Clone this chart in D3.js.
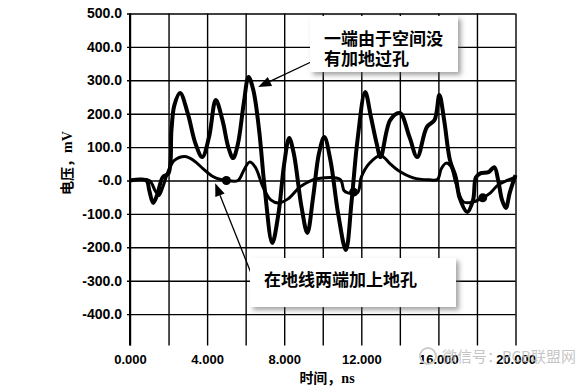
<!DOCTYPE html>
<html>
<head>
<meta charset="utf-8">
<script src="https://cdn.jsdelivr.net/npm/d3@7"></script>
<style>
  html, body { margin: 0; padding: 0; background: #fff; }
  svg { display: block; }
</style>
</head>
<body>
<div id="chart"></div>
<script>
// time in ns, voltage in mV
var timeNoVia = [0, 0.85, 1.0, 1.2, 1.4, 1.7, 2.0, 2.15, 2.3, 2.6, 3.0, 3.4, 3.75, 4.1, 4.45, 4.8, 5.1, 5.35, 5.6, 5.9, 6.15, 6.4, 6.7, 7.0, 7.38, 7.7, 8.0, 8.26, 8.5, 8.9, 9.2, 9.5, 9.8, 10.08, 10.4, 10.8, 11.2, 11.5, 11.8, 12.2, 12.5, 12.8, 13.0, 13.5, 14.0, 14.5, 14.9, 15.4, 15.8, 16.05, 16.3, 16.6, 16.9, 17.1, 17.5, 17.8, 17.95, 18.2, 18.6, 18.9, 19.1, 19.3, 19.5, 19.7, 20.0];
var voltNoVia = [0, 0, -30, -67, -45, 10, 22, 150, 225, 262, 200, 110, 70, 130, 241, 180, 100, 67, 110, 230, 310, 270, 150, -30, -187, -100, 50, 127, 80, -80, -157, -50, 80, 130, 60, -100, -208, -60, 120, 265, 190, 110, 70, 181, 202, 130, 70, 160, 181, 256, 180, 61, 10, -52, -94, -58, 10, 22, 25, 40, 1, -58, -82, -37, 16];

var timeWithVia = [0, 1.0, 1.3, 1.5, 1.7, 2.0, 2.3, 2.85, 3.3, 3.8, 4.3, 4.7, 5.0, 5.6, 5.9, 6.2, 6.5, 6.9, 7.3, 7.7, 8.2, 8.8, 9.3, 9.7, 10.9, 11.1, 11.3, 11.8, 12.0, 12.4, 13.0, 13.5, 13.9, 14.7, 15.5, 15.95, 16.15, 16.4, 16.65, 16.9, 17.3, 17.8, 18.3, 18.7, 19.1, 19.6, 20.0];
var voltWithVia = [0, 0, -30, -45, -20, 30, 60, 72, 60, 35, 12, 3, 0, 0, 30, 55, 40, -20, -58, -67, -55, -20, -3, 5, 3, -30, -37, -37, 10, 50, 75, 50, 31, 8, 2, 3, 35, 52, 42, -7, -64, -64, -52, -37, -13, 1, 10];

var markerTimes = [5.0, 11.6, 18.3];
var markerVolts = [0, -35, -52];

var timeTicks = [0, 2, 4, 6, 8, 10, 12, 14, 16, 18, 20];
var timeLabels = ['0.000', '', '4.000', '', '8.000', '', '12.000', '', '16.000', '', '20.000'];
var voltTicks = [500, 400, 300, 200, 100, 0, -100, -200, -300, -400];
var voltLabels = ['500.0', '400.0', '300.0', '200.0', '100.0', '-0.0', '-100.0', '-200.0', '-300.0', '-400.0'];

var width = 584, height = 387;

var svg = d3.select('#chart').append('svg')
  .attr('width', width).attr('height', height)
  .style('background', '#fff');

var defs = svg.append('defs');
var shadow = defs.append('filter').attr('id', 'shadow')
  .attr('x', '-10%').attr('y', '-20%').attr('width', '130%').attr('height', '150%');
shadow.append('feDropShadow')
  .attr('dx', 3).attr('dy', 3).attr('stdDeviation', 2.5)
  .attr('flood-color', '#555').attr('flood-opacity', 0.55);

var x = d3.scaleLinear().domain([0, 20]).range([130, 515.5]);
var y = d3.scaleLinear().domain([-500, 500]).range([347.5, 13.5]);

// vertical grid + x labels
var xAxis = d3.axisBottom(x)
  .tickValues(timeTicks)
  .tickSize(-(y(-500) - y(500) - 2))
  .tickPadding(9)
  .tickFormat(function (d, i) { return timeLabels[i]; });

svg.append('g')
  .attr('transform', 'translate(0,' + (y(-500) - 2) + ')')
  .call(xAxis)
  .call(function (g) {
    g.select('.domain').remove();
    g.selectAll('line').attr('stroke', '#000').attr('stroke-width', 1.4);
    g.selectAll('text')
      .attr('fill', '#000')
      .style('font-family', 'Liberation Sans, Arial, sans-serif')
      .style('font-size', '13px')
      .style('font-weight', 'bold');
  });

// horizontal grid + y labels
var yAxis = d3.axisLeft(y)
  .tickValues(voltTicks)
  .tickSize(3)
  .tickPadding(5)
  .tickFormat(function (d, i) { return voltLabels[i]; });

svg.append('g')
  .attr('transform', 'translate(130,0)')
  .call(yAxis)
  .call(function (g) {
    g.select('.domain').remove();
    g.selectAll('line')
      .attr('x1', -3).attr('x2', x(20) - 130)
      .attr('stroke', '#000').attr('stroke-width', 1.4);
    g.selectAll('text')
      .attr('fill', '#000')
      .style('font-family', 'Liberation Sans, Arial, sans-serif')
      .style('font-size', '14px')
      .style('font-weight', 'bold');
  });

// left axis line
svg.append('line')
  .attr('x1', x(0)).attr('x2', x(0))
  .attr('y1', y(500)).attr('y2', y(-500) - 2)
  .attr('stroke', '#000').attr('stroke-width', 2);

// axis titles
svg.append('text')
  .attr('transform', 'translate(72,163) rotate(-90)')
  .attr('text-anchor', 'middle')
  .style('font-family', 'Liberation Serif, Noto Sans CJK SC, serif')
  .style('font-size', '14px')
  .style('font-weight', 'bold')
  .text('电压，mV');

svg.append('text')
  .attr('x', 327).attr('y', 383)
  .attr('text-anchor', 'middle')
  .style('font-family', 'Liberation Serif, Noto Sans CJK SC, serif')
  .style('font-size', '14px')
  .style('font-weight', 'bold')
  .text('时间，ns');

// curves
var line = d3.line()
  .x(function (d) { return x(d[0]); })
  .y(function (d) { return y(d[1]); })
  .curve(d3.curveCatmullRom.alpha(0.5));

svg.append('path')
  .datum(d3.zip(timeWithVia, voltWithVia))
  .attr('d', line)
  .attr('fill', 'none')
  .attr('stroke', '#000')
  .attr('stroke-width', 3)
  .attr('stroke-linejoin', 'round');

svg.append('path')
  .datum(d3.zip(timeNoVia, voltNoVia))
  .attr('d', line)
  .attr('fill', 'none')
  .attr('stroke', '#000')
  .attr('stroke-width', 4)
  .attr('stroke-linejoin', 'round');

svg.selectAll('circle.mark')
  .data(d3.zip(markerTimes, markerVolts))
  .enter()
  .append('circle')
  .attr('class', 'mark')
  .attr('cx', function (d) { return x(d[0]); })
  .attr('cy', function (d) { return y(d[1]); })
  .attr('r', 4.5)
  .attr('fill', '#000');

// annotations
function arrow(x1, y1, x2, y2) {
  var ang = Math.atan2(y2 - y1, x2 - x1), len = 13, half = 5;
  var bx = x2 - len * Math.cos(ang), by = y2 - len * Math.sin(ang);
  svg.append('line')
    .attr('x1', x1).attr('y1', y1).attr('x2', bx).attr('y2', by)
    .attr('stroke', '#000').attr('stroke-width', 1.3);
  svg.append('path')
    .attr('d', 'M' + x2 + ',' + y2 +
      'L' + (bx + half * Math.sin(ang)) + ',' + (by - half * Math.cos(ang)) +
      'L' + (bx - half * Math.sin(ang)) + ',' + (by + half * Math.cos(ang)) + 'Z')
    .attr('fill', '#000');
}

arrow(311, 62, x(6.65), y(280));
arrow(251, 273, x(4.42), y(-8));

function note(bx, by, bw, bh, lines, tx, ty, lh) {
  svg.append('rect')
    .attr('x', bx).attr('y', by).attr('width', bw).attr('height', bh)
    .attr('fill', '#fff')
    .attr('filter', 'url(#shadow)');
  lines.forEach(function (s, i) {
    svg.append('text')
      .attr('x', tx).attr('y', ty + i * lh)
      .style('font-family', 'Noto Sans CJK SC, sans-serif')
      .style('font-size', '17px')
      .style('font-weight', 'bold')
      .attr('fill', '#000')
      .text(s);
  });
}

note(310, 16, 148, 56, ['一端由于空间没', '有加地过孔'], 324, 45, 20);
note(250, 258, 206, 49, ['在地线两端加上地孔'], 264, 286, 0);

// watermark
svg.append('text')
  .attr('x', 442).attr('y', 362)
  .style('font-family', 'Noto Sans CJK SC, sans-serif')
  .style('font-size', '15px')
  .attr('fill', '#bbb')
  .attr('fill-opacity', 0.85)
  .text('微信号：PCB联盟网');
svg.append('circle')
  .attr('cx', 428).attr('cy', 356).attr('r', 8)
  .attr('fill', 'none').attr('stroke', '#ccc').attr('stroke-width', 2);
</script>
</body>
</html>
